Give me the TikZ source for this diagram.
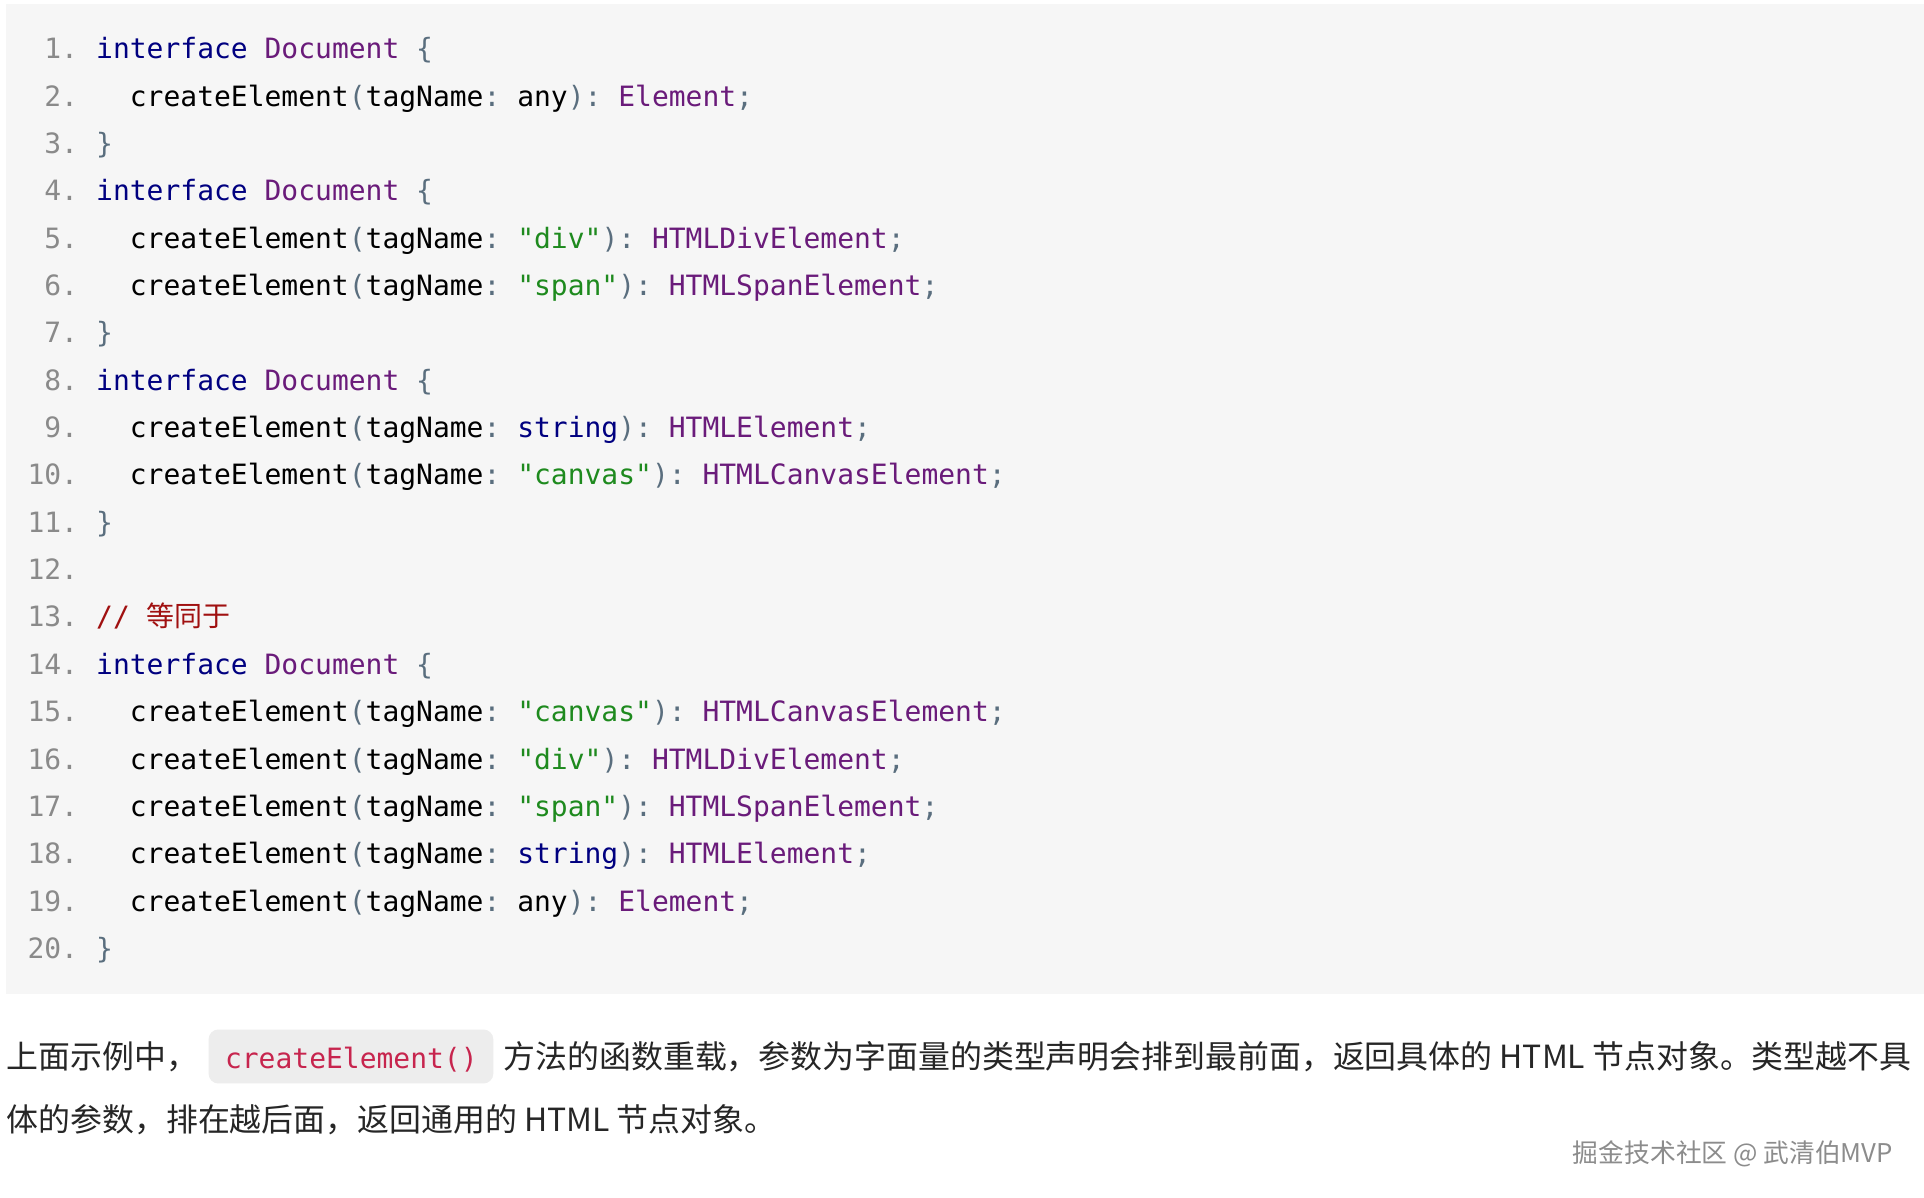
\documentclass[tikz,border=0pt]{standalone}
\usepackage{fontspec}
\setmainfont{Noto Sans CJK SC}
\setmonofont{DejaVu Sans Mono}
\newfontfamily\cjk{Noto Sans CJK SC}
\definecolor{bgc}{HTML}{F6F6F6}
\definecolor{kwc}{HTML}{000080}
\definecolor{tyc}{HTML}{6A1B7A}
\definecolor{stc}{HTML}{1E8A1E}
\definecolor{puc}{HTML}{5A6E7E}
\definecolor{cmc}{HTML}{A01010}
\definecolor{lnc}{HTML}{8A8A8A}
\definecolor{inc}{HTML}{C7254E}
\newcommand\kwx[1]{\textcolor{kwc}{#1}}
\newcommand\tyx[1]{\textcolor{tyc}{#1}}
\newcommand\stx[1]{\textcolor{stc}{#1}}
\newcommand\pux[1]{\textcolor{puc}{#1}}
\newcommand\ce{createElement\pux{(}tagName\pux{:} }
\begin{document}
\begin{tikzpicture}[x=0.5pt,y=-0.5pt,
  code/.style={anchor=base west,inner sep=0,font=\ttfamily\fontsize{11.4}{12}\selectfont},
  lnum/.style={anchor=base east,inner sep=0,text=lnc,font=\ttfamily\fontsize{11.4}{12}\selectfont},
  body/.style={anchor=base west,inner sep=0,text=black!85,font=\fontsize{13}{15}\selectfont}]
\useasboundingbox (0,0) rectangle (1568,976);
\fill[white] (0,0) rectangle (1568,976);
\fill[bgc] (5,3) rectangle (1568,810);
\foreach \i/\t in {
1/{\kwx{interface} \tyx{Document} \pux{\{}},
2/{\ \ \ce any\pux{)}\pux{:} \tyx{Element}\pux{;}},
3/{\pux{\}}},
4/{\kwx{interface} \tyx{Document} \pux{\{}},
5/{\ \ \ce\stx{"div"}\pux{)}\pux{:} \tyx{HTMLDivElement}\pux{;}},
6/{\ \ \ce\stx{"span"}\pux{)}\pux{:} \tyx{HTMLSpanElement}\pux{;}},
7/{\pux{\}}},
8/{\kwx{interface} \tyx{Document} \pux{\{}},
9/{\ \ \ce\kwx{string}\pux{)}\pux{:} \tyx{HTMLElement}\pux{;}},
10/{\ \ \ce\stx{"canvas"}\pux{)}\pux{:} \tyx{HTMLCanvasElement}\pux{;}},
11/{\pux{\}}},
12/{},
13/{\textcolor{cmc}{// {\cjk 等同于}}},
14/{\kwx{interface} \tyx{Document} \pux{\{}},
15/{\ \ \ce\stx{"canvas"}\pux{)}\pux{:} \tyx{HTMLCanvasElement}\pux{;}},
16/{\ \ \ce\stx{"div"}\pux{)}\pux{:} \tyx{HTMLDivElement}\pux{;}},
17/{\ \ \ce\stx{"span"}\pux{)}\pux{:} \tyx{HTMLSpanElement}\pux{;}},
18/{\ \ \ce\kwx{string}\pux{)}\pux{:} \tyx{HTMLElement}\pux{;}},
19/{\ \ \ce any\pux{)}\pux{:} \tyx{Element}\pux{;}},
20/{\pux{\}}}}{
  \pgfmathsetmacro\yy{48+(\i-1)*38.58}
  \node[lnum] (n\i) at (64,\yy) {\i.};
  \node[code] (c\i) at (78,\yy) {\t};
}
\fill[bgc!70!gray!40,rounded corners=4pt] (170,839) rectangle (402,883);
\node[code,text=inc] (ic) at (183,871) {createElement()};
\node[body] (t1) at (5,871) {上面示例中，};
\node[body] (t2) at (410,871) {方法的函数重载，参数为字面量的类型声明会排到最前面，返回具体的 HTML 节点对象。类型越不具};
\node[body] (t3) at (5,922) {体的参数，排在越后面，返回通用的 HTML 节点对象。};
\node[anchor=base east,inner sep=0,text=black!45,font=\fontsize{10.5}{12}\selectfont] (wm) at (1543,947) {掘金技术社区 @ 武清伯MVP};
\end{tikzpicture}
\end{document}
